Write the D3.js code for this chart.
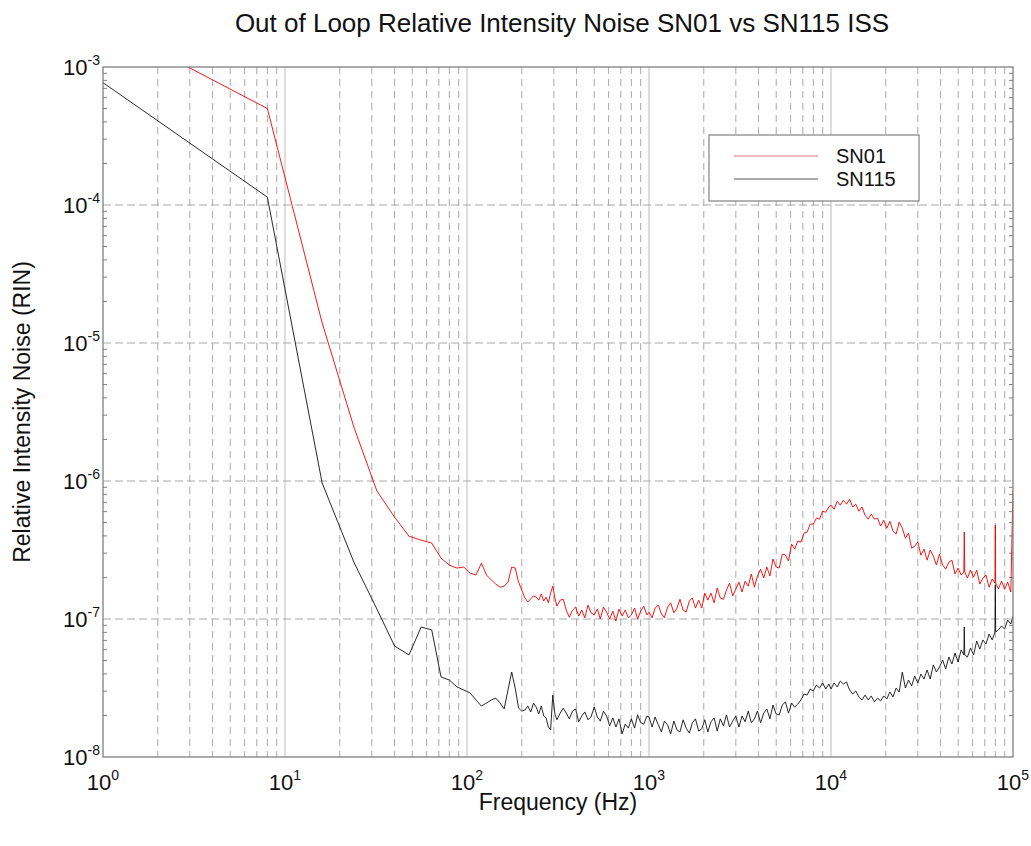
<!DOCTYPE html>
<meta charset="utf-8">
<style>

body {
  margin: 0;
  background: #fff;
}

svg {
  font-family: "Liberation Sans", Arial, sans-serif;
}

.grid-minor {
  stroke: #a9a9a9;
  stroke-dasharray: 7,5;
}

.grid-major {
  stroke: #bdbdbd;
}

.grid-h {
  stroke: #a9a9a9;
  stroke-dasharray: 8,4;
}

.frame {
  fill: none;
  stroke: #808080;
  stroke-width: 1.3;
}

.minor-tick {
  stroke: #808080;
}

.series {
  fill: none;
  stroke-width: 0.9;
  stroke-linejoin: round;
}

.tick-label {
  font-size: 22px;
  fill: #111;
}

.axis-title {
  font-size: 23px;
  fill: #111;
}

</style>
<svg width="1031" height="846"></svg>

<script src="https://d3js.org/d3.v7.min.js"></script>

<script>

// frequency bins (Hz), shared by both traces
var freqHz = [
  1, 8, 16, 24, 32, 40, 48, 56, 64, 72, 80, 88, 96, 104, 112, 120, 128, 136, 144, 152,
  160, 168, 176, 184, 192, 200, 208, 216, 224, 232, 240, 248, 256, 264, 272, 280, 288, 296, 304,
  312, 325, 338, 351, 365, 380, 395, 411, 427, 444, 462, 480, 500, 520, 540, 562, 585, 608, 633, 658,
  684, 712, 740, 770, 800, 833, 866, 900, 936, 974,
  1000, 1040, 1080, 1125, 1170, 1215, 1265, 1315, 1370, 1425, 1480, 1540, 1600, 1665, 1730, 1800,
  1875, 1950, 2025, 2105, 2190, 2280, 2370, 2465, 2565, 2665, 2770, 2885, 3000, 3120, 3245, 3375,
  3510, 3650, 3795, 3945, 4105, 4270, 4440, 4615, 4800, 4995, 5195, 5400, 5615, 5840, 6075, 6320,
  6570, 6835, 7105, 7390, 7685, 7995, 8315, 8645, 8995, 9350, 9725,
  10000, 10400, 10820, 11250, 11700, 12170, 12650, 13160, 13690, 14230, 14800, 15390, 16010, 16650,
  17320, 18010, 18730, 19480, 20260, 21070, 21910, 22790, 23700, 24650, 25630, 26660, 27730, 28830,
  29990, 31190, 32430, 33730, 35080, 36480, 37940, 39460, 41040, 42680, 44390, 46160, 48010, 49930,
  51930, 53700, 54000, 54300, 56170, 58410, 60750, 63180, 65710, 68340, 71070, 73910, 76870,
  79600, 79940, 80300, 83140, 86470, 89930, 93520, 97260, 100000
];

// relative intensity noise, in units of 1e-8
var rinSN01 = [
  210000, 50000, 1400, 242, 84.6, 54.8, 39.8, 37.3, 35.5, 27.6, 24.6, 23.4, 23.8, 21.5, 20.8, 25.4, 20.8, 19.2, 17.9, 17.0,
  17.3, 18.5, 23.8, 23.4, 18.5, 16.2, 14.2, 13.3, 14.0, 14.7, 14.4, 13.7, 15.2, 13.5, 14.4, 13.1, 15.4, 17.3, 14.2,
  12.4, 13.7, 13.9, 11.6, 10.3, 11.6, 12.2, 10.5, 11.6, 10.2, 12.6, 11.1, 10.7, 11.8, 10.0, 12.2, 11.2, 10.0, 11.4, 9.67,
  11.8, 10.5, 11.6, 10.2, 10.7, 12.0, 10.0, 11.4, 12.4, 10.7,
  11.2, 10.2, 12.0, 12.6, 10.9, 10.2, 12.2, 13.1, 11.1, 12.0, 13.9, 11.6, 11.2, 13.5, 14.2, 12.0,
  13.7, 12.0, 15.4, 13.7, 15.4, 13.1, 16.8, 14.2, 13.9, 16.2, 18.2, 14.7, 16.5, 18.5, 15.7, 18.8,
  17.3, 21.2, 17.0, 20.5, 23.0, 19.8, 23.8, 20.5, 27.2, 23.8, 23.4, 29.5, 29.1, 26.3, 34.9, 32.1,
  36.7, 36.1, 41.9, 42.6, 48.7, 48.7, 53.8, 52.9, 60.4, 59.4, 64.8,
  66.8, 62.4, 71.4, 66.8, 72.6, 67.9, 73.8, 64.8, 67.9, 60.4, 64.8, 56.5, 52.9, 57.5,
  52.9, 53.8, 47.1, 52.0, 45.5, 51.1, 43.3, 41.2, 50.3, 45.5, 38.5, 41.9, 32.6, 33.7,
  36.1, 29.0, 32.1, 26.7, 31.6, 28.6, 24.6, 29.5, 24.6, 23.0, 25.8, 26.7, 21.2, 23.4,
  20.8, 21.9, 42.7, 21.9, 19.8, 22.6, 20.1, 22.6, 17.9, 19.8, 20.8, 17.0, 19.5,
  18.2, 48.0, 18.2, 16.5, 18.8, 16.5, 18.5, 15.7, 86.1
];

var rinSN115 = [
  77000, 11400, 96.7, 25.5, 11.8, 6.37, 5.49, 8.75, 8.33, 3.80, 3.61, 3.22, 3.06, 2.91, 2.59, 2.34, 2.46, 2.59, 2.67, 2.46,
  2.23, 3.06, 4.13, 3.16, 2.26, 2.15, 2.19, 2.34, 2.12, 2.46, 2.30, 2.05, 2.34, 1.98, 1.92, 1.65, 1.57, 2.81, 2.05,
  1.86, 2.08, 2.26, 2.08, 1.89, 2.15, 2.23, 1.80, 1.98, 2.12, 1.86, 1.95, 2.30, 1.95, 1.82, 2.15, 1.98, 1.68, 1.92, 1.65,
  1.89, 1.47, 1.73, 1.62, 1.89, 1.62, 2.02, 1.77, 1.73, 1.98,
  1.95, 1.65, 1.95, 1.71, 1.52, 1.82, 1.71, 1.47, 1.82, 1.57, 1.52, 1.86, 1.62, 1.49, 1.77, 1.89,
  1.54, 1.60, 1.86, 1.52, 1.80, 1.92, 1.54, 1.89, 1.68, 2.02, 1.65, 1.82, 1.98, 1.65, 1.98, 1.80,
  2.15, 1.77, 1.89, 2.15, 1.77, 2.08, 2.23, 1.89, 2.38, 2.05, 2.02, 2.38, 2.51, 2.08, 2.46, 2.30,
  2.42, 2.59, 2.86, 2.81, 3.11, 3.01, 3.32, 3.16, 3.44, 3.11, 3.38,
  3.11, 3.44, 3.22, 3.55, 3.38, 3.49, 3.06, 2.86, 3.01, 2.72, 2.59, 2.81, 2.59, 2.77,
  2.51, 2.67, 2.55, 2.77, 2.63, 2.96, 2.72, 3.16, 2.96, 4.13, 3.16, 3.61, 3.27, 3.86,
  3.44, 3.99, 3.67, 4.27, 3.67, 4.65, 4.13, 4.49, 5.05, 4.34, 5.30, 4.72, 5.67, 4.88,
  5.97, 5.49, 8.75, 5.49, 5.30, 6.16, 5.49, 6.93, 6.06, 7.05, 6.59, 7.78, 7.05,
  8.05, 17.6, 8.05, 8.33, 8.90, 8.46, 9.83, 9.20, 10.5
];

var xDecades = [1e0, 1e1, 1e2, 1e3, 1e4, 1e5];
var yDecades = [1e-8, 1e-7, 1e-6, 1e-5, 1e-4, 1e-3];
var seriesNames = ["SN01", "SN115"];
var seriesColors = ["#f00000", "#111111"];

var svg = d3.select("svg"),
    margin = {top: 67, right: 18, bottom: 89, left: 103},
    width = +svg.attr("width") - margin.left - margin.right,
    height = +svg.attr("height") - margin.top - margin.bottom;

var x = d3.scaleLog().domain([1, 1e5]).range([0, width]);
var y = d3.scaleLog().domain([1e-8, 1e-3]).range([height, 0]);

var g = svg.append("g")
    .attr("transform", "translate(" + margin.left + "," + margin.top + ")");

svg.append("defs").append("clipPath")
    .attr("id", "plot-clip")
  .append("rect")
    .attr("width", width)
    .attr("height", height);

// vertical grid: dashed at 2..9, solid at decades
var xTicks = x.ticks();
var isDecade = function(v) { return Math.abs(Math.log10(v) - Math.round(Math.log10(v))) < 1e-9; };

g.append("g").selectAll("line")
    .data(xTicks.filter(function(d) { return !isDecade(d); }))
  .enter().append("line")
    .attr("class", "grid-minor")
    .attr("x1", function(d) { return x(d); })
    .attr("x2", function(d) { return x(d); })
    .attr("y1", 0)
    .attr("y2", height);

g.append("g").selectAll("line")
    .data(xDecades.slice(1, -1))
  .enter().append("line")
    .attr("class", "grid-major")
    .attr("x1", function(d) { return x(d); })
    .attr("x2", function(d) { return x(d); })
    .attr("y1", 0)
    .attr("y2", height);

// horizontal grid at decades
g.append("g").selectAll("line")
    .data(yDecades.slice(1, -1))
  .enter().append("line")
    .attr("class", "grid-h")
    .attr("x1", 0)
    .attr("x2", width)
    .attr("y1", function(d) { return y(d); })
    .attr("y2", function(d) { return y(d); });

// minor y ticks on both sides
var yMinor = y.ticks().filter(function(d) { return !isDecade(d); });
[0, width].forEach(function(edge) {
  g.append("g").selectAll("line")
      .data(yMinor)
    .enter().append("line")
      .attr("class", "minor-tick")
      .attr("x1", edge)
      .attr("x2", edge === 0 ? 4 : width - 4)
      .attr("y1", function(d) { return y(d); })
      .attr("y2", function(d) { return y(d); });
});

// traces
var line = d3.line()
    .x(function(d) { return x(d[0]); })
    .y(function(d) { return y(d[1] * 1e-8); });

var traces = [rinSN01, rinSN115];
g.append("g")
    .attr("clip-path", "url(#plot-clip)")
  .selectAll("path")
    .data(traces)
  .enter().append("path")
    .attr("class", "series")
    .attr("stroke", function(d, i) { return seriesColors[i]; })
    .attr("d", function(vals) {
      return line(freqHz.map(function(f, i) { return [f, vals[i]]; }));
    });

g.append("rect")
    .attr("class", "frame")
    .attr("width", width)
    .attr("height", height);

// tick labels as 10 with a superscript exponent
var xl = g.append("g").selectAll("text")
    .data(xDecades)
  .enter().append("text")
    .attr("class", "tick-label")
    .attr("text-anchor", "middle")
    .attr("x", function(d) { return x(d); })
    .attr("y", height + 33)
    .text("10");
xl.append("tspan")
    .attr("dy", -10)
    .style("font-size", "14px")
    .text(function(d) { return Math.round(Math.log10(d)); });

var yl = g.append("g").selectAll("text")
    .data(yDecades)
  .enter().append("text")
    .attr("class", "tick-label")
    .attr("text-anchor", "end")
    .attr("x", -3)
    .attr("y", function(d) { return y(d) + 8; })
    .text("10");
yl.append("tspan")
    .attr("dy", -10)
    .style("font-size", "14px")
    .text(function(d) { return "-" + Math.abs(Math.round(Math.log10(d))); });

// titles
svg.append("text")
    .attr("x", 562)
    .attr("y", 32)
    .attr("text-anchor", "middle")
    .style("font-size", "26px")
    .style("fill", "#111")
    .text("Out of Loop Relative Intensity Noise SN01 vs SN115 ISS");

svg.append("text")
    .attr("class", "axis-title")
    .attr("x", margin.left + width / 2)
    .attr("y", 810)
    .attr("text-anchor", "middle")
    .text("Frequency (Hz)");

svg.append("text")
    .attr("class", "axis-title")
    .attr("transform", "translate(30," + (margin.top + height / 2) + ") rotate(-90)")
    .attr("text-anchor", "middle")
    .text("Relative Intensity Noise (RIN)");

// legend
var legend = svg.append("g").attr("transform", "translate(709,135)");
legend.append("rect")
    .attr("width", 210)
    .attr("height", 66)
    .attr("fill", "#fff")
    .attr("stroke", "#808080")
    .attr("stroke-width", 1.2);

var items = legend.selectAll(".item")
    .data(seriesNames)
  .enter().append("g")
    .attr("class", "item")
    .attr("transform", function(d, i) { return "translate(0," + (21 + i * 23) + ")"; });

items.append("line")
    .attr("x1", 25)
    .attr("x2", 109)
    .attr("stroke", function(d, i) { return i === 0 ? "#e07080" : "#555"; })
    .attr("stroke-width", 1.2);

items.append("text")
    .attr("x", 127)
    .attr("y", 7)
    .style("font-size", "20px")
    .style("fill", "#111")
    .text(function(d) { return d; });

</script>
